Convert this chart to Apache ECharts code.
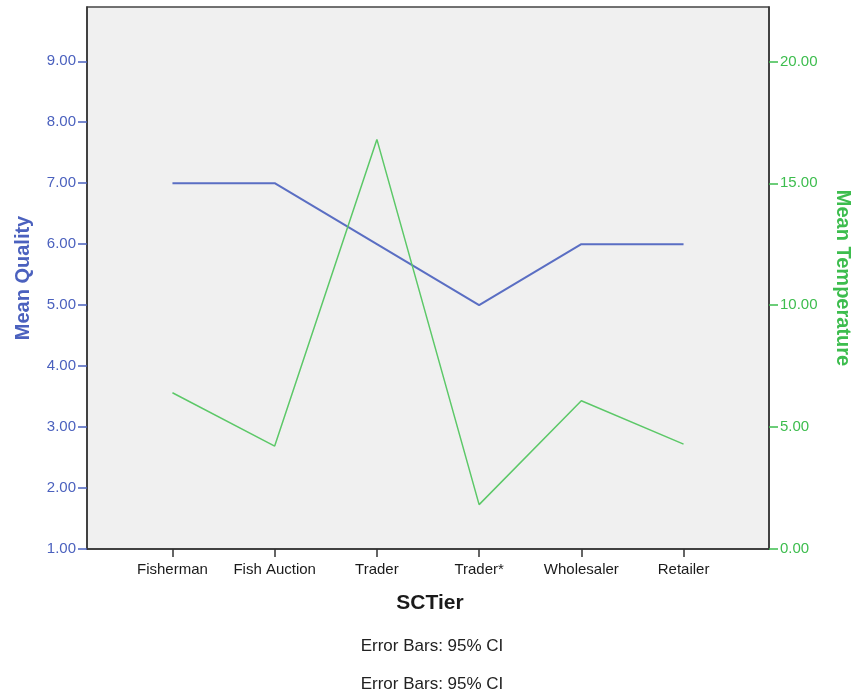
<!DOCTYPE html>
<html>
<head>
<meta charset="utf-8">
<script src="https://cdn.jsdelivr.net/npm/echarts@6/dist/echarts.min.js"></script>
<style>html,body{margin:0;padding:0;background:#fff}#c{width:854px;height:694px}</style>
</head>
<body>
<div id="c"></div>
<script>
const categories = ['Fisherman', 'Fish Auction', 'Trader', 'Trader*', 'Wholesaler', 'Retailer'];
const meanQuality = [7.0, 7.0, 6.0, 5.0, 6.0, 6.0];
const meanTemperature = [6.41, 4.22, 16.80, 1.82, 6.08, 4.30];
const qualityTicks = [1, 2, 3, 4, 5, 6, 7, 8, 9];
const temperatureTicks = [0, 5, 10, 15, 20];
const footnotes = ['Error Bars: 95% CI', 'Error Bars: 95% CI'];

const BLUE = '#4b61be', BLUE_LINE = '#5a6ec3';
const GREEN = '#3dbd4e', GREEN_LINE = '#5cc868';
const FONT = '"Liberation Sans", Arial, sans-serif';

const chart = echarts.init(document.getElementById('c'), null, {renderer: 'canvas'});
chart.setOption({
  animation: false,
  textStyle: {fontFamily: FONT},
  title: [
    {text: 'SCTier', left: 430, top: 593, textAlign: 'center', padding: 0,
     textStyle: {fontSize: 21, fontWeight: 'bold', color: '#1a1a1a', fontFamily: FONT, lineHeight: 21}},
    {text: footnotes[0], left: 432, top: 638, textAlign: 'center', padding: 0,
     textStyle: {fontSize: 17, fontWeight: 'normal', color: '#222', fontFamily: FONT, lineHeight: 17}},
    {text: footnotes[1], left: 432, top: 676, textAlign: 'center', padding: 0,
     textStyle: {fontSize: 17, fontWeight: 'normal', color: '#222', fontFamily: FONT, lineHeight: 17}}
  ],
  grid: {left: 87, right: 85, top: 7, bottom: 145, show: true, backgroundColor: '#f0f0f0',
         borderColor: '#444', borderWidth: 1.5, containLabel: false, outerBoundsMode: 'none'},
  xAxis: {
    type: 'value', min: -0.836, max: 5.836,
    splitLine: {show: false},
    axisLine: {show: true, onZero: false, lineStyle: {color: '#333', width: 1.5}},
    axisTick: {show: true, length: 8, customValues: categories.map((c, i) => i), lineStyle: {color: '#333', width: 1.5}},
    axisLabel: {customValues: categories.map((c, i) => i), margin: 13, fontSize: 15, color: '#1a1a1a', fontFamily: FONT,
      formatter: v => categories[Math.round(v)] || ''}
  },
  yAxis: [
    {
      type: 'value', min: 1, max: 9.89, position: 'left',
      name: 'Mean Quality', nameLocation: 'middle', nameGap: 54,
      nameTextStyle: {fontSize: 20, fontWeight: 'bold', color: BLUE, fontFamily: FONT},
      splitLine: {show: false},
      axisLine: {show: true, onZero: false, lineStyle: {color: '#333', width: 1.5}},
      axisTick: {show: true, length: 9, customValues: qualityTicks, lineStyle: {color: BLUE, width: 1.5}},
      axisLabel: {customValues: qualityTicks, margin: 11, fontSize: 15, color: BLUE, fontFamily: FONT,
        formatter: v => v.toFixed(2)}
    },
    {
      type: 'value', min: 0, max: 22.23, position: 'right',
      name: 'Mean Temperature', nameLocation: 'middle', nameGap: 64, nameRotate: -90,
      nameTextStyle: {fontSize: 20, fontWeight: 'bold', color: GREEN, fontFamily: FONT},
      splitLine: {show: false},
      axisLine: {show: true, onZero: false, lineStyle: {color: '#333', width: 1.5}},
      axisTick: {show: true, length: 9, customValues: temperatureTicks, lineStyle: {color: GREEN, width: 1.5}},
      axisLabel: {customValues: temperatureTicks, margin: 11, fontSize: 15, color: GREEN, fontFamily: FONT,
        formatter: v => v.toFixed(2)}
    }
  ],
  series: [
    {type: 'line', yAxisIndex: 0, showSymbol: false, symbol: 'none',
     data: meanQuality.map((v, i) => [i, v]), lineStyle: {color: BLUE_LINE, width: 2}},
    {type: 'line', yAxisIndex: 1, showSymbol: false, symbol: 'none',
     data: meanTemperature.map((v, i) => [i, v]), lineStyle: {color: GREEN_LINE, width: 1.5}}
  ]
});
</script>
</body>
</html>
